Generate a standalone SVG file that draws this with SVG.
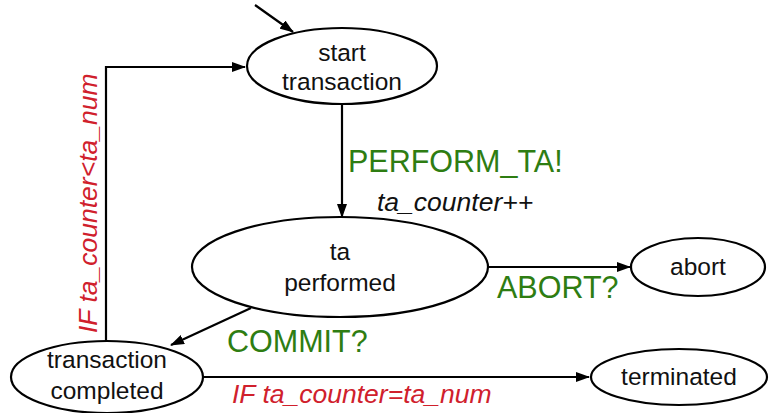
<svg xmlns="http://www.w3.org/2000/svg" width="769" height="413" viewBox="0 0 769 413">
  <style>
    .node { fill: #ffffff; stroke: #000000; stroke-width: 2.2; }
    .edge { fill: none; stroke: #000000; stroke-width: 2.2; }
    .lbl { font-family: "Liberation Sans", Arial, sans-serif; font-size: 24.5px; fill: #111111; text-anchor: middle; }
    .act { font-family: "Liberation Sans", Arial, sans-serif; font-size: 30.5px; fill: #2e7d12; }
    .cond { font-family: "Liberation Sans", Arial, sans-serif; font-size: 26.5px; font-style: italic; fill: #d0202c; }
    .upd { font-family: "Liberation Sans", Arial, sans-serif; font-size: 26.5px; font-style: italic; fill: #111111; }
  </style>
  <defs>
    <marker id="arrow" viewBox="0 0 14 10" refX="13" refY="5" markerWidth="14" markerHeight="10" markerUnits="userSpaceOnUse" orient="auto">
      <path d="M0,0 L14,5 L0,10 Z" fill="#000000"/>
    </marker>
  </defs>

  <!-- transitions -->
  <g id="connectors">
    <line class="edge" x1="255" y1="5" x2="293" y2="32" marker-end="url(#arrow)"/>
    <polyline class="edge" points="106,342 106,67 245,67" marker-end="url(#arrow)"/>
    <line class="edge" x1="342" y1="104" x2="342" y2="217" marker-end="url(#arrow)"/>
    <line class="edge" x1="488" y1="267" x2="630" y2="267" marker-end="url(#arrow)"/>
    <line class="edge" x1="251" y1="308" x2="171" y2="345" marker-end="url(#arrow)"/>
    <line class="edge" x1="203" y1="377" x2="589" y2="377" marker-end="url(#arrow)"/>
  </g>

  <!-- states -->
  <g id="start-transaction">
    <ellipse class="node" cx="342" cy="66" rx="95" ry="38"/>
    <text class="lbl" x="342" y="61">start</text>
    <text class="lbl" x="342" y="90">transaction</text>
  </g>
  <g id="ta-performed">
    <ellipse class="node" cx="340" cy="267" rx="148" ry="50"/>
    <text class="lbl" x="340" y="260">ta</text>
    <text class="lbl" x="340" y="291">performed</text>
  </g>
  <g id="abort">
    <ellipse class="node" cx="698" cy="267" rx="67" ry="29"/>
    <text class="lbl" x="698" y="275">abort</text>
  </g>
  <g id="transaction-completed">
    <ellipse class="node" cx="107" cy="377" rx="96" ry="36"/>
    <text class="lbl" x="107" y="368">transaction</text>
    <text class="lbl" x="107" y="399">completed</text>
  </g>
  <g id="terminated">
    <ellipse class="node" cx="679" cy="377" rx="88" ry="28"/>
    <text class="lbl" x="679" y="385">terminated</text>
  </g>

  <!-- transition labels -->
  <g id="labels">
    <text class="act" x="348" y="172">PERFORM_TA!</text>
    <text class="upd" x="377" y="211">ta_counter++</text>
    <text class="act" x="497" y="298">ABORT?</text>
    <text class="act" x="227" y="352">COMMIT?</text>
    <text class="cond" x="232" y="403">IF ta_counter=ta_num</text>
    <text class="cond" transform="translate(97,333) rotate(-90)">IF ta_counter&lt;ta_num</text>
  </g>
</svg>
